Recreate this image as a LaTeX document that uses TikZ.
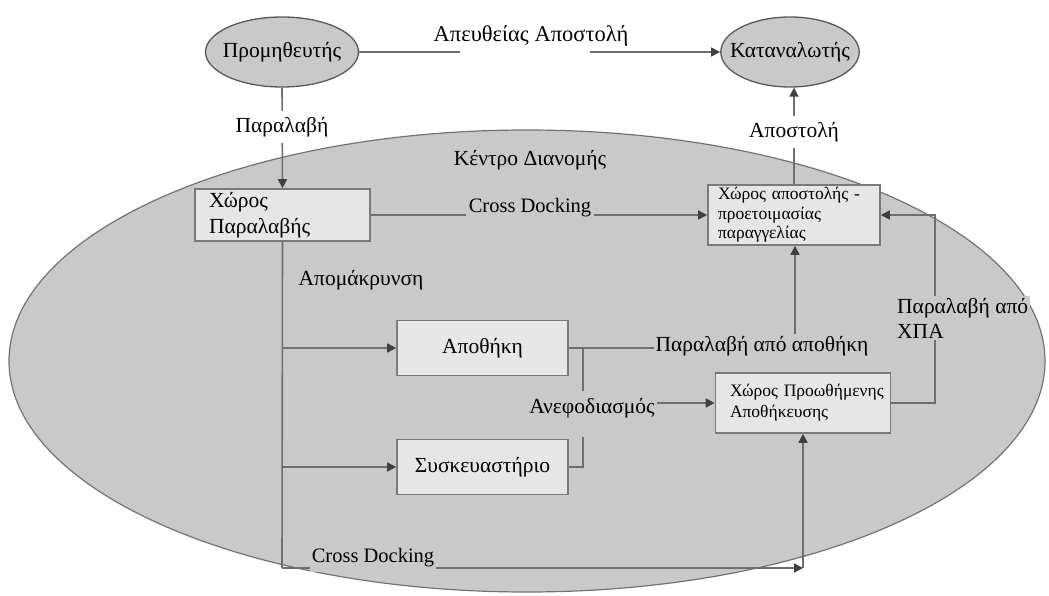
\documentclass[tikz,border=0pt]{standalone}
\usepackage{fontspec}
\setmainfont{Liberation Serif}
\usetikzlibrary{arrows.meta,shapes.geometric}
\definecolor{dcfill}{HTML}{C9C9C9}
\definecolor{boxfill}{HTML}{E6E6E6}
\definecolor{linec}{HTML}{6E6E6E}
\definecolor{edgec}{HTML}{7A7A7A}
\definecolor{tipc}{HTML}{404040}
\begin{document}
\begin{tikzpicture}[x=1pt,y=-1pt,
  font=\fontsize{21.5}{25}\selectfont,
  oval/.style={ellipse, draw=black!65, fill=dcfill, line width=1.3pt, minimum height=70pt, inner ysep=0pt},
  area/.style={rectangle, draw=edgec, fill=boxfill, line width=1.6pt, inner sep=0pt},
  flow/.style={draw=linec, line width=1.6pt},
  arr/.style={flow, -{Triangle[length=9pt,width=9pt,color=tipc]}},
  tag/.style={inner sep=2pt},
  latin/.style={font=\fontsize{20.5}{24}\selectfont},
]
\useasboundingbox (0,0) rectangle (1049,596);
% distribution centre
\draw[draw=black!55, fill=dcfill, line width=1.2pt] (527,361) ellipse [x radius=518pt, y radius=231pt];
\node[tag] (dclabel) at (530,160) {Κέντρο Διανομής};

% nodes
\node[oval, inner xsep=-5pt] (sup) at (282,52) {Προμηθευτής};
\node[oval, inner xsep=-11pt] (cons) at (790,52) {Καταναλωτής};
\node[area, minimum width=175pt, minimum height=52pt, text width=147pt, align=left, font=\fontsize{21.5}{26}\selectfont] (recv) at (282.5,215) {Χώρος\\Παραλαβής};
\node[area, minimum width=172pt, minimum height=60pt, text width=152pt, align=left, font=\fontsize{17.5}{19.5}\selectfont] (disp) at (794,215) {Χώρος αποστολής -\\προετοιμασίας\\παραγγελίας};
\node[area, minimum width=171pt, minimum height=55pt] (apo) at (482.5,348) {Αποθήκη};
\node[area, minimum width=171pt, minimum height=55pt] (syk) at (482.5,467) {Συσκευαστήριο};
\node[area, minimum width=175pt, minimum height=60pt, text width=162pt, align=left, font=\fontsize{17.5}{21}\selectfont] (fwd) at (803,403) {\hspace*{8pt}Χώρος Προωθήμενης\\\hspace*{8pt}Αποθήκευσης};

% coordinates
\coordinate (g1) at (460,52);
\coordinate (g2) at (590,52);
\coordinate (bl) at (282,568);
\coordinate (br) at (803,568);
\coordinate (b1) at (282,348);
\coordinate (b2) at (282,467);
\coordinate (j1) at (583,348);
\coordinate (j2) at (583,403);
\coordinate (c1) at (795,348);
\coordinate (r2) at (935,215);

% connectors
\draw[flow] (sup.east) -- (g1);
\draw[arr] (g2) -- (cons.west);
\node[tag, anchor=base, font=\fontsize{22.5}{26}\selectfont] (l1) at (531,42) {Απευθείας Αποστολή};

\draw[arr] (sup.south) -- (recv.north);
\node[tag, fill=white, inner ysep=6pt] (l2) at (282,127) {Παραλαβή};

\draw[arr] (disp.north) -- (disp.north |- cons.south);
\node[tag, fill=white, inner ysep=6pt] (l3) at (794,132) {Αποστολή};

\draw[arr] (recv.east) -- (disp.west);
\node[tag, fill=dcfill, inner sep=3pt, latin] (l4) at (530,208) {Cross Docking};

\node[tag] (l5) at (361,280) {Απομάκρυνση};

\draw[flow] (recv.south) -- (bl);
\draw[arr] (b1) -- (apo.west);
\draw[arr] (b2) -- (syk.west);
\draw[arr] (bl) -- (br);
\draw[arr] (br) -- (fwd.south);
\node[tag, fill=dcfill, anchor=base, text depth=8pt, latin] (l6) at (373,562) {Cross Docking};

\draw[arr] (apo.east) -- (c1) -- (c1 |- disp.south);
\node[tag, fill=dcfill, inner sep=2pt] (l7) at (762,346) {Παραλαβή από αποθήκη};

\draw[flow] (j1) -- (j2);
\draw[flow] (syk.east) -| (j2);
\draw[arr] (j2) -- (fwd.west);
\node[tag, fill=dcfill, anchor=base, text height=20pt, text depth=22pt] (l8) at (592,413) {Ανεφοδιασμός};

\draw[arr] (fwd.east) -| (r2) -- (disp.east);
\node[tag, fill=dcfill, align=left, anchor=west, font=\fontsize{21.5}{25}\selectfont] (l9) at (895,318) {Παραλαβή από\\ΧΠΑ};
\end{tikzpicture}
\end{document}
